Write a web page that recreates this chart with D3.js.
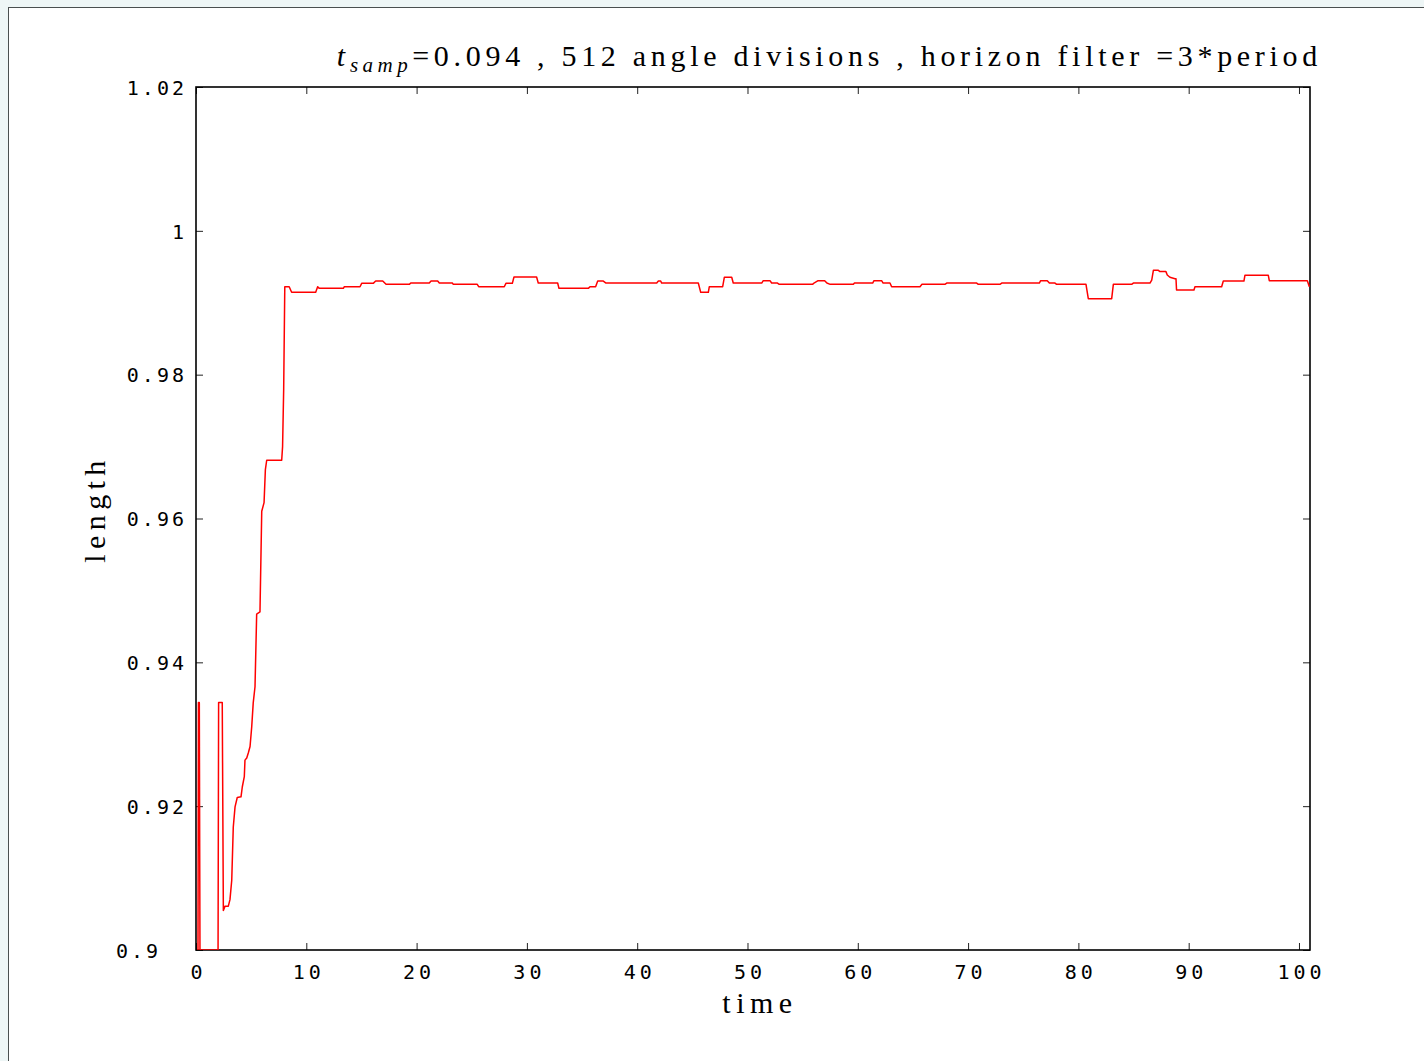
<!DOCTYPE html>
<html>
<head>
<meta charset="utf-8">
<script src="https://cdn.jsdelivr.net/npm/d3@7"></script>
<style>
  html, body { margin: 0; padding: 0; background: #eef6f6; }
  svg { display: block; }
</style>
</head>
<body>
<svg id="chart" width="1424" height="1061"></svg>
<script>
// ---- data ----
const times = [
  0.18, 0.22, 0.30, 0.36, 2.00, 2.05, 2.38, 2.48, 2.63, 2.93, 3.08, 3.24, 3.38, 3.54, 3.74, 4.08,
  4.20, 4.38, 4.44, 4.60, 4.74, 4.90, 5.05, 5.19, 5.35, 5.50, 5.80, 5.96, 6.17, 6.29, 6.41, 7.77,
  7.85, 7.95, 8.05, 8.45, 8.67, 10.85, 11.03, 11.18, 13.36, 13.45, 14.87, 15.02, 16.07, 16.29,
  16.93, 17.23, 19.34, 19.47, 21.15, 21.31, 21.91, 22.06, 23.24, 23.33, 25.50, 25.63, 27.95, 28.10,
  28.68, 28.83, 30.88, 31.03, 32.79, 32.91, 35.57, 35.72, 36.23, 36.42, 36.93, 37.17, 41.77, 41.92,
  42.13, 42.22, 45.54, 45.76, 46.45, 46.54, 47.75, 47.90, 48.57, 48.71, 51.29, 51.43, 52.04, 52.19,
  52.72, 52.88, 55.90, 56.03, 56.40, 57.00, 57.20, 57.50, 59.60, 59.70, 61.35, 61.47, 62.16, 62.30,
  62.92, 63.07, 65.64, 65.82, 67.90, 68.06, 70.78, 70.93, 72.89, 73.05, 76.46, 76.58, 77.18, 77.37,
  77.88, 78.03, 80.69, 80.90, 83.02, 83.17, 84.83, 84.98, 86.49, 86.65, 86.80, 87.25, 87.40, 87.94,
  88.06, 88.30, 88.76, 88.85, 88.90, 90.48, 90.57, 92.99, 93.14, 95.01, 95.10, 97.22, 97.31, 100.76,
  100.94
];
const lengths = [
  0.9000, 0.9344, 0.9344, 0.9000, 0.9000, 0.9344, 0.9344, 0.9055, 0.9061, 0.9061, 0.9070, 0.9097, 0.9171, 0.9199, 0.9212, 0.9213,
  0.9227, 0.9241, 0.9264, 0.9267, 0.9274, 0.9283, 0.9310, 0.9344, 0.9366, 0.9467, 0.9470, 0.9610, 0.9622, 0.9668, 0.9681, 0.9681,
  0.9700, 0.9780, 0.99223, 0.99223, 0.99145, 0.99145, 0.99223, 0.99200, 0.99200, 0.99223, 0.99223, 0.99270, 0.99270, 0.99302,
  0.99302, 0.99256, 0.99256, 0.99274, 0.99274, 0.99302, 0.99302, 0.99274, 0.99274, 0.99256, 0.99256, 0.99223, 0.99223, 0.99270,
  0.99270, 0.99358, 0.99358, 0.99274, 0.99274, 0.99200, 0.99200, 0.99223, 0.99223, 0.99302, 0.99302, 0.99274, 0.99274, 0.99302,
  0.99302, 0.99274, 0.99274, 0.99145, 0.99145, 0.99223, 0.99223, 0.99354, 0.99354, 0.99274, 0.99274, 0.99307, 0.99307, 0.99274,
  0.99274, 0.99256, 0.99256, 0.99274, 0.99307, 0.99307, 0.99274, 0.99256, 0.99256, 0.99274, 0.99274, 0.99307, 0.99307, 0.99274,
  0.99274, 0.99223, 0.99223, 0.99256, 0.99256, 0.99274, 0.99274, 0.99256, 0.99256, 0.99274, 0.99274, 0.99307, 0.99307, 0.99274,
  0.99274, 0.99256, 0.99256, 0.99057, 0.99057, 0.99256, 0.99256, 0.99274, 0.99274, 0.99316, 0.99451, 0.99451, 0.99433, 0.99433,
  0.99386, 0.99354, 0.99335, 0.99335, 0.99177, 0.99177, 0.99223, 0.99223, 0.99302, 0.99302, 0.99382, 0.99382, 0.99307, 0.99307,
  0.99223
];
const xTicks = [0, 10, 20, 30, 40, 50, 60, 70, 80, 90, 100];
const xTickLabels = ["0", "10", "20", "30", "40", "50", "60", "70", "80", "90", "100"];
const yTicks = [0.90, 0.92, 0.94, 0.96, 0.98, 1.00, 1.02];
const yTickLabels = ["0.9", "0.92", "0.94", "0.96", "0.98", "1", "1.02"];
const xDomain = [0, 101];
const yDomain = [0.9, 1.02];
const xLabel = "time";
const yLabel = "length";
const titleMain = "t";
const titleSub = "samp";
const titleRest = "=0.094 , 512 angle divisions , horizon filter =3*period";

// ---- layout ----
const svg = d3.select("#chart");
const L = 196, R = 1310, T = 87, B = 950;
const x = d3.scaleLinear().domain(xDomain).range([L, R]);
const y = d3.scaleLinear().domain(yDomain).range([B, T]);

// page frame
svg.append("rect").attr("x", 0).attr("y", 0).attr("width", 1424).attr("height", 1061).attr("fill", "#eef6f6");
svg.append("rect").attr("x", 8.5).attr("y", 7.5).attr("width", 1430).attr("height", 1070)
  .attr("fill", "#ffffff").attr("stroke", "#4a4f4f").attr("stroke-width", 1);

const tickFont = "'DejaVu Sans Mono', monospace";
const serif = "'Liberation Serif', 'DejaVu Serif', serif";

// axes with inward ticks
const gx = svg.append("g").attr("transform", `translate(0,${B})`)
  .call(d3.axisBottom(x).tickValues(xTicks).tickSize(-7).tickPadding(0)
    .tickFormat((d, i) => xTickLabels[i]));
const gxTop = svg.append("g").attr("transform", `translate(0,${T})`)
  .call(d3.axisTop(x).tickValues(xTicks).tickSize(-7).tickFormat(""));
const gy = svg.append("g").attr("transform", `translate(${L},0)`)
  .call(d3.axisLeft(y).tickValues(yTicks).tickSize(-7).tickPadding(0)
    .tickFormat((d, i) => yTickLabels[i]));
const gyR = svg.append("g").attr("transform", `translate(${R},0)`)
  .call(d3.axisRight(y).tickValues(yTicks).tickSize(-7).tickFormat(""));

[gx, gxTop, gy, gyR].forEach(g => {
  g.select(".domain").remove();
  g.selectAll(".tick line").attr("stroke", "#222").attr("stroke-width", 1);
});

gx.selectAll(".tick text")
  .attr("font-family", tickFont).attr("font-size", 20).attr("letter-spacing", "4px")
  .attr("fill", "#000").attr("dy", null).attr("y", 29).attr("dx", "2px");
gy.selectAll(".tick text")
  .attr("font-family", tickFont).attr("font-size", 20).attr("letter-spacing", "3px")
  .attr("fill", "#000").attr("x", (d, i) => i === 0 ? -35 : -9).attr("dy", "0.36em");

// plot frame
svg.append("rect").attr("x", L).attr("y", T).attr("width", R - L).attr("height", B - T)
  .attr("fill", "none").attr("stroke", "#000").attr("stroke-width", 1.6);

// clip + line
svg.append("clipPath").attr("id", "clip").append("rect")
  .attr("x", L).attr("y", T).attr("width", R - L).attr("height", B - T);
const pts = times.map((t, i) => [t, lengths[i]]);
svg.append("path").datum(pts)
  .attr("clip-path", "url(#clip)")
  .attr("fill", "none").attr("stroke", "#ff0000").attr("stroke-width", 1.5)
  .attr("stroke-linejoin", "round")
  .attr("d", d3.line().x(d => x(d[0])).y(d => y(d[1])));

// title
const title = svg.append("text").attr("x", 1322).attr("y", 66).attr("text-anchor", "end")
  .attr("font-family", serif).attr("font-size", 30).attr("letter-spacing", "4.7px").attr("fill", "#000");
title.append("tspan").attr("font-style", "italic").text(titleMain);
title.append("tspan").attr("font-style", "italic").attr("font-size", 21).attr("dy", 6).attr("letter-spacing", "4.5px").text(titleSub);
title.append("tspan").attr("dy", -6).text(titleRest);

// axis labels
svg.append("text").attr("x", 760).attr("y", 1013).attr("text-anchor", "middle")
  .attr("font-family", serif).attr("font-size", 30).attr("letter-spacing", "5.5px").attr("fill", "#000")
  .text(xLabel);
svg.append("text").attr("transform", "translate(105,509) rotate(-90)").attr("text-anchor", "middle")
  .attr("font-family", serif).attr("font-size", 30).attr("letter-spacing", "5.4px").attr("fill", "#000")
  .text(yLabel);
</script>
</body>
</html>
